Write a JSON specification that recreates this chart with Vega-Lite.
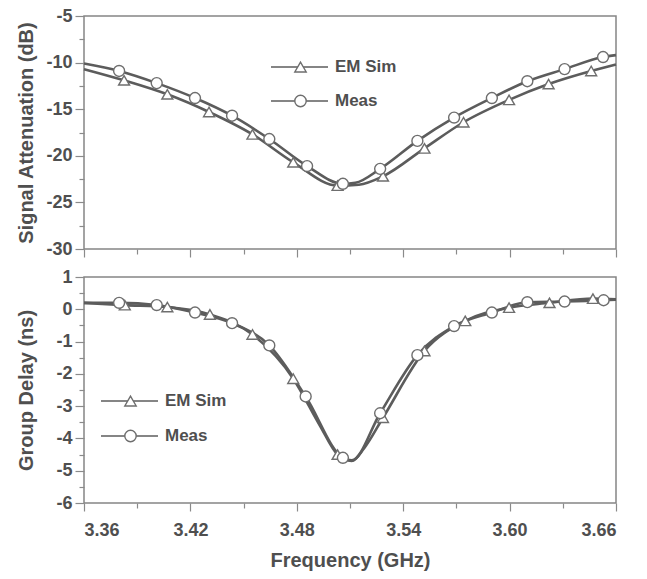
{
  "$schema": "https://vega.github.io/schema/vega-lite/v6.json",
  "background": "white",
  "padding": {"left": 15, "top": 6, "right": 5, "bottom": 5},
  "spacing": 8,
  "config": {
    "font": "Liberation Sans",
    "view": {"stroke": "#858585", "strokeWidth": 1.5},
    "axis": {
      "grid": false,
      "domain": false,
      "tickColor": "#8a8a8a",
      "tickWidth": 1.2,
      "labelFont": "Liberation Sans",
      "labelFontSize": 18,
      "labelFontWeight": "bold",
      "labelColor": "#4f4f4f",
      "titleFont": "Liberation Sans",
      "titleFontSize": 20,
      "titleFontWeight": "bold",
      "titleColor": "#4f4f4f",
      "labelPadding": 3
    },
    "legend": {
      "labelFont": "Liberation Sans",
      "labelFontSize": 17,
      "labelFontWeight": "bold",
      "labelColor": "#4f4f4f",
      "padding": 0,
      "clipHeight": 20
    }
  },
  "datasets": {
    "att": [
      {"f": 3.36, "v": -10.7, "s": "EM Sim", "m": 0},
      {"f": 3.3826, "v": -11.9, "s": "EM Sim", "m": 1},
      {"f": 3.407, "v": -13.4, "s": "EM Sim", "m": 1},
      {"f": 3.4305, "v": -15.3, "s": "EM Sim", "m": 1},
      {"f": 3.455, "v": -17.7, "s": "EM Sim", "m": 1},
      {"f": 3.478, "v": -20.7, "s": "EM Sim", "m": 1},
      {"f": 3.503, "v": -23.2, "s": "EM Sim", "m": 1},
      {"f": 3.515, "v": -23.1, "s": "EM Sim", "m": 0},
      {"f": 3.5286, "v": -22.2, "s": "EM Sim", "m": 1},
      {"f": 3.552, "v": -19.2, "s": "EM Sim", "m": 1},
      {"f": 3.574, "v": -16.4, "s": "EM Sim", "m": 1},
      {"f": 3.5997, "v": -14.0, "s": "EM Sim", "m": 1},
      {"f": 3.622, "v": -12.3, "s": "EM Sim", "m": 1},
      {"f": 3.646, "v": -10.9, "s": "EM Sim", "m": 1},
      {"f": 3.66, "v": -10.2, "s": "EM Sim", "m": 0},
      {"f": 3.36, "v": -10.1, "s": "Meas", "m": 0},
      {"f": 3.3798, "v": -10.9, "s": "Meas", "m": 1},
      {"f": 3.401, "v": -12.2, "s": "Meas", "m": 1},
      {"f": 3.4226, "v": -13.8, "s": "Meas", "m": 1},
      {"f": 3.4435, "v": -15.7, "s": "Meas", "m": 1},
      {"f": 3.4645, "v": -18.2, "s": "Meas", "m": 1},
      {"f": 3.4858, "v": -21.1, "s": "Meas", "m": 1},
      {"f": 3.506, "v": -23.0, "s": "Meas", "m": 1},
      {"f": 3.513, "v": -22.9, "s": "Meas", "m": 0},
      {"f": 3.527, "v": -21.4, "s": "Meas", "m": 1},
      {"f": 3.548, "v": -18.4, "s": "Meas", "m": 1},
      {"f": 3.5687, "v": -15.9, "s": "Meas", "m": 1},
      {"f": 3.59, "v": -13.8, "s": "Meas", "m": 1},
      {"f": 3.61, "v": -12.0, "s": "Meas", "m": 1},
      {"f": 3.631, "v": -10.7, "s": "Meas", "m": 1},
      {"f": 3.6527, "v": -9.4, "s": "Meas", "m": 1},
      {"f": 3.66, "v": -9.2, "s": "Meas", "m": 0}
    ],
    "gd": [
      {"f": 3.36, "v": 0.2, "s": "EM Sim", "m": 0},
      {"f": 3.383, "v": 0.13, "s": "EM Sim", "m": 1},
      {"f": 3.407, "v": 0.07, "s": "EM Sim", "m": 1},
      {"f": 3.431, "v": -0.16, "s": "EM Sim", "m": 1},
      {"f": 3.455, "v": -0.78, "s": "EM Sim", "m": 1},
      {"f": 3.478, "v": -2.15, "s": "EM Sim", "m": 1},
      {"f": 3.493, "v": -3.6, "s": "EM Sim", "m": 0},
      {"f": 3.503, "v": -4.5, "s": "EM Sim", "m": 1},
      {"f": 3.511, "v": -4.7, "s": "EM Sim", "m": 0},
      {"f": 3.518, "v": -4.3, "s": "EM Sim", "m": 0},
      {"f": 3.5286, "v": -3.36, "s": "EM Sim", "m": 1},
      {"f": 3.552, "v": -1.29, "s": "EM Sim", "m": 1},
      {"f": 3.575, "v": -0.36, "s": "EM Sim", "m": 1},
      {"f": 3.5997, "v": 0.05, "s": "EM Sim", "m": 1},
      {"f": 3.6225, "v": 0.2, "s": "EM Sim", "m": 1},
      {"f": 3.647, "v": 0.33, "s": "EM Sim", "m": 1},
      {"f": 3.66, "v": 0.31, "s": "EM Sim", "m": 0},
      {"f": 3.36, "v": 0.2, "s": "Meas", "m": 0},
      {"f": 3.3798, "v": 0.2, "s": "Meas", "m": 1},
      {"f": 3.401, "v": 0.13, "s": "Meas", "m": 1},
      {"f": 3.4226, "v": -0.1, "s": "Meas", "m": 1},
      {"f": 3.4435, "v": -0.43, "s": "Meas", "m": 1},
      {"f": 3.4645, "v": -1.12, "s": "Meas", "m": 1},
      {"f": 3.485, "v": -2.7, "s": "Meas", "m": 1},
      {"f": 3.506, "v": -4.6, "s": "Meas", "m": 1},
      {"f": 3.511, "v": -4.68, "s": "Meas", "m": 0},
      {"f": 3.527, "v": -3.22, "s": "Meas", "m": 1},
      {"f": 3.548, "v": -1.42, "s": "Meas", "m": 1},
      {"f": 3.5687, "v": -0.52, "s": "Meas", "m": 1},
      {"f": 3.59, "v": -0.1, "s": "Meas", "m": 1},
      {"f": 3.61, "v": 0.22, "s": "Meas", "m": 1},
      {"f": 3.631, "v": 0.24, "s": "Meas", "m": 1},
      {"f": 3.653, "v": 0.28, "s": "Meas", "m": 1},
      {"f": 3.66, "v": 0.3, "s": "Meas", "m": 0}
    ]
  },
  "resolve": {
    "scale": {"shape": "independent", "color": "independent"},
    "legend": {"shape": "independent", "color": "independent"}
  },
  "vconcat": [
    {
      "width": 532,
      "height": 233,
      "data": {"name": "att"},
      "encoding": {
        "x": {
          "field": "f", "type": "quantitative",
          "scale": {"domain": [3.36, 3.66], "nice": false, "zero": false},
          "axis": {
            "title": null, "labels": false,
            "values": [3.36, 3.39, 3.42, 3.45, 3.48, 3.51, 3.54, 3.57, 3.6, 3.63, 3.66],
            "tickSize": {"condition": {"test": "round(datum.value*100) % 6 == 0", "value": 8}, "value": 5}
          }
        },
        "y": {
          "field": "v", "type": "quantitative",
          "scale": {"domain": [-30, -5], "nice": false, "zero": false},
          "axis": {
            "title": "Signal Attenuation (dB)",
            "titleX": -58, "titleBaseline": "middle",
            "values": [-30, -27.5, -25, -22.5, -20, -17.5, -15, -12.5, -10, -7.5, -5],
            "labelExpr": "datum.value % 5 == 0 ? (datum.value < 0 ? '-' + abs(datum.value) : '' + datum.value) : ''",
            "tickSize": {"condition": {"test": "datum.value % 5 == 0", "value": 9}, "value": 5}
          }
        }
      },
      "layer": [
        {
          "mark": {"type": "line", "interpolate": "monotone", "strokeWidth": 2.6},
          "encoding": {
            "color": {
              "field": "s", "type": "nominal",
              "scale": {"range": ["#5c5c5c", "#5c5c5c"]},
              "legend": {
                "title": null, "orient": "none", "legendX": 186, "legendY": 41, "rowPadding": 14,
                "symbolType": "stroke", "symbolSize": 3249, "symbolStrokeWidth": 1.5, "labelOffset": 6,
                "symbolStrokeColor": "#707070"
              }
            }
          }
        },
        {
          "transform": [{"filter": "datum.m == 1"}],
          "mark": {"type": "point", "filled": true, "fill": "white", "stroke": "#6e6e6e", "strokeWidth": 1.4, "size": 120, "opacity": 1},
          "encoding": {
            "shape": {
              "field": "s", "type": "nominal",
              "scale": {"domain": ["EM Sim", "Meas"], "range": ["triangle-up", "circle"]},
              "legend": {
                "title": null, "orient": "none", "legendX": 208, "legendY": 41, "rowPadding": 14,
                "symbolSize": 130, "labelExpr": "''", "symbolStrokeWidth": 1.4
              }
            }
          }
        }
      ]
    },
    {
      "width": 532,
      "height": 226,
      "data": {"name": "gd"},
      "encoding": {
        "x": {
          "field": "f", "type": "quantitative",
          "scale": {"domain": [3.36, 3.66], "nice": false, "zero": false},
          "axis": {
            "title": "Frequency (GHz)",
            "titlePadding": 11,
            "values": [3.36, 3.39, 3.42, 3.45, 3.48, 3.51, 3.54, 3.57, 3.6, 3.63, 3.66],
            "labelExpr": "round(datum.value*100) % 6 == 0 ? format(datum.value, '.2f') : ''",
            "tickSize": {"condition": {"test": "round(datum.value*100) % 6 == 0", "value": 8}, "value": 5},
            "labelPadding": 10
          }
        },
        "y": {
          "field": "v", "type": "quantitative",
          "scale": {"domain": [-6, 1], "nice": false, "zero": false},
          "axis": {
            "title": "Group Delay (ns)",
            "titleX": -58, "titleBaseline": "middle",
            "values": [-6, -5.5, -5, -4.5, -4, -3.5, -3, -2.5, -2, -1.5, -1, -0.5, 0, 0.5, 1],
            "labelExpr": "datum.value % 1 == 0 ? (datum.value < 0 ? '-' + abs(datum.value) : '' + datum.value) : ''",
            "tickSize": {"condition": {"test": "datum.value % 1 == 0", "value": 9}, "value": 5}
          }
        }
      },
      "layer": [
        {
          "mark": {"type": "line", "interpolate": "monotone", "strokeWidth": 2.6},
          "encoding": {
            "color": {
              "field": "s", "type": "nominal",
              "scale": {"range": ["#5c5c5c", "#5c5c5c"]},
              "legend": {
                "title": null, "orient": "none", "legendX": 16, "legendY": 114, "rowPadding": 15,
                "symbolType": "stroke", "symbolSize": 3249, "symbolStrokeWidth": 1.5, "labelOffset": 6,
                "symbolStrokeColor": "#707070"
              }
            }
          }
        },
        {
          "transform": [{"filter": "datum.m == 1"}],
          "mark": {"type": "point", "filled": true, "fill": "white", "stroke": "#6e6e6e", "strokeWidth": 1.4, "size": 120, "opacity": 1},
          "encoding": {
            "shape": {
              "field": "s", "type": "nominal",
              "scale": {"domain": ["EM Sim", "Meas"], "range": ["triangle-up", "circle"]},
              "legend": {
                "title": null, "orient": "none", "legendX": 38, "legendY": 114, "rowPadding": 15,
                "symbolSize": 130, "labelExpr": "''", "symbolStrokeWidth": 1.4
              }
            }
          }
        }
      ]
    }
  ]
}
